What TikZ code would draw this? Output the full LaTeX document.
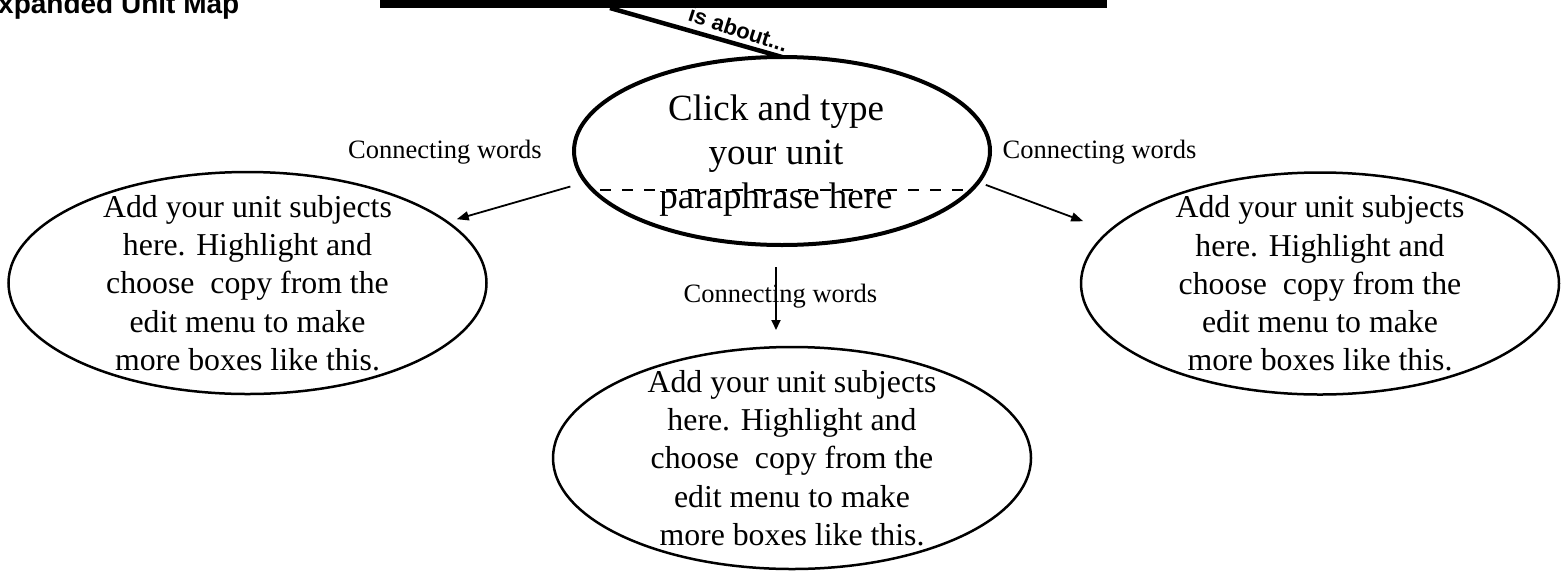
\documentclass[tikz,border=0pt]{standalone}
\usepackage{fontspec}
\setmainfont{Liberation Serif}
\newfontfamily\arialfont{Liberation Sans}
\usetikzlibrary{arrows.meta,shapes.geometric}
\begin{document}
\begin{tikzpicture}[x=1pt,y=-1pt,
  subj/.style={ellipse, draw, line width=2.5pt, minimum width=478pt, minimum height=222pt, inner sep=0pt, outer sep=0pt},
  subjtext/.style={align=center, font=\fontsize{31.8}{38.3}\selectfont, inner sep=0pt},
  conn/.style={font=\fontsize{26.5}{30}\selectfont, inner sep=0pt, anchor=base},
  arr/.style={line width=1.8pt, -{Triangle[length=12pt,width=9pt]}},
]
\useasboundingbox (0,0) rectangle (1562,576);
% title
\node[anchor=base east, font=\arialfont\bfseries\fontsize{28}{30}\selectfont, inner sep=0pt] (title) at (239.5,13) {Expanded Unit Map};
% bottom edge of the unit box
\node[fill=black, minimum width=727pt, minimum height=16pt, inner sep=0pt, outer sep=0pt] (bar) at (743.5,0) {};
% central ellipse
\node[ellipse, draw, line width=4pt, minimum width=416pt, minimum height=188pt, inner sep=0pt, outer sep=0pt] (c) at (782,151) {};
\coordinate (dl) at (600,190);
\coordinate (dr) at (972,190);
\draw[line width=1.8pt, dash pattern=on 11pt off 11pt] (dl) -- (dr);
\node[align=center, font=\fontsize{37}{44}\selectfont, inner sep=0pt] (ct) at (776,155.4) {Click and type\\your unit\\paraphrase here};
% subject ellipses
\node[subj] (l) at (247.5,283) {};
\node[subjtext] (lt) at (l) {Add your unit subjects\\here. Highlight and\\choose~ copy from the\\edit menu to make\\more boxes like this.};
\node[subj] (r) at (1320,283.5) {};
\node[subjtext] (rt) at (r) {Add your unit subjects\\here. Highlight and\\choose~ copy from the\\edit menu to make\\more boxes like this.};
\node[subj] (b) at (792,458) {};
\node[subjtext] (bt) at (b) {Add your unit subjects\\here. Highlight and\\choose~ copy from the\\edit menu to make\\more boxes like this.};
% connector labels
\node[conn] (cw1) at (445,158) {Connecting words};
\node[conn] (cw2) at (1099.5,158) {Connecting words};
\node[conn] (cw3) at (780.5,302) {Connecting words};
% connectors
\draw[line width=4.5pt] ([xshift=-133.5pt]bar.south) -- node[pos=0.72, anchor=south, rotate=-18, inner sep=4.5pt, font=\arialfont\bfseries\fontsize{22}{24}\selectfont] (ab) {is about...} (c.north);
\draw[arr, shorten <=16pt, shorten >=10pt] (c.189) -- (l.17);
\draw[arr, shorten <=8pt, shorten >=28pt] (c.-9.4) -- (r.166.4);
\draw[arr, -{Triangle[length=10pt,width=9pt]}] ([xshift=-6pt,yshift=-22pt]c.south) -- ([xshift=-16pt,yshift=17pt]b.north);
\end{tikzpicture}
\end{document}
